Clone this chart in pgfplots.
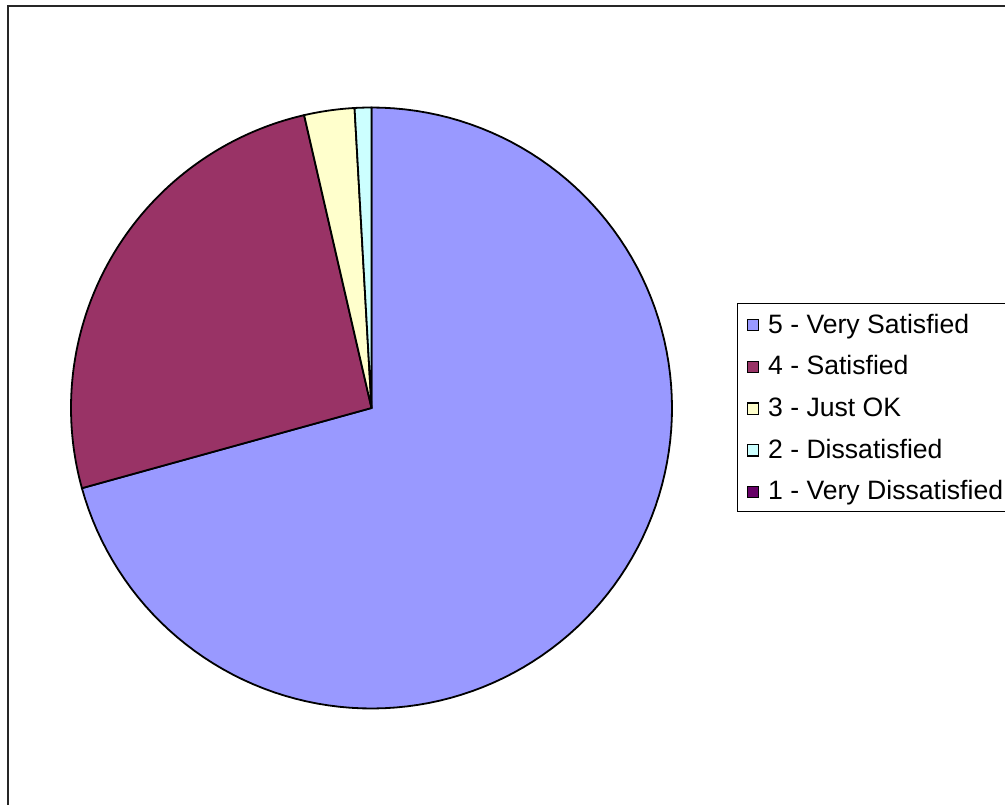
\documentclass[border=0pt]{standalone}
\usepackage{pgfplots}
\usepackage{pgfplotstable}
\pgfplotsset{compat=1.18}
\usepackage{fontspec}
\setmainfont{Liberation Sans}

\definecolor{c5}{HTML}{9999FF}
\definecolor{c4}{HTML}{993366}
\definecolor{c3}{HTML}{FFFFCC}
\definecolor{c2}{HTML}{CCFFFF}
\definecolor{c1}{HTML}{660066}

% share of answers, percent
\pgfplotstableread{
label value
5 70.7
4 25.7
3 2.7
2 0.9
1 0
}\piedata

\pgfplotstablegetelem{0}{value}\of\piedata \let\vA\pgfplotsretval
\pgfplotstablegetelem{1}{value}\of\piedata \let\vB\pgfplotsretval
\pgfplotstablegetelem{2}{value}\of\piedata \let\vC\pgfplotsretval
\pgfplotstablegetelem{3}{value}\of\piedata \let\vD\pgfplotsretval
\pgfplotstablegetelem{4}{value}\of\piedata \let\vE\pgfplotsretval
\pgfmathsetmacro\tot{\vA+\vB+\vC+\vD+\vE}
\pgfmathsetmacro\aA{90}
\pgfmathsetmacro\aB{\aA-360*(\vA/\tot)}
\pgfmathsetmacro\aC{\aB-360*(\vB/\tot)}
\pgfmathsetmacro\aD{\aC-360*(\vC/\tot)}
\pgfmathsetmacro\aE{\aD-360*(\vD/\tot)}

\def\cx{371.5}
\def\cy{396}
\def\R{300.5}

\begin{document}
\begin{tikzpicture}
\begin{axis}[
  x=0.5pt, y=0.5pt, xmin=0, xmax=1005, ymin=0, ymax=804,
  scale only axis, hide axis, clip=false,
  samples=120,
  legend image code/.code={\draw[#1,draw=black,line width=0.6pt] (-0.4pt,-3.4pt) rectangle (5.2pt,2.2pt);},
  legend style={at={(axis cs:737,501.3)}, anchor=north west,
    draw=black, line width=0.5pt, fill=white,
    font=\fontsize{13.3}{15}\selectfont,
    inner xsep=4.5pt, inner ysep=0pt, row sep=0pt, column sep=2.6pt,
    nodes={text height=14.9pt, text depth=5.95pt, inner ysep=0pt}},
  legend cell align=left,
]
\addplot[fill=c5, draw=black, line width=0.9pt, domain=\aB:\aA]
  ({\cx+\R*cos(x)}, {\cy+\R*sin(x)}) -- (axis cs:\cx,\cy) -- cycle;
\addlegendentry{5 - Very Satisfied}
\addplot[fill=c4, draw=black, line width=0.9pt, domain=\aC:\aB]
  ({\cx+\R*cos(x)}, {\cy+\R*sin(x)}) -- (axis cs:\cx,\cy) -- cycle;
\addlegendentry{4 - Satisfied}
\addplot[fill=c3, draw=black, line width=0.9pt, domain=\aD:\aC, samples=20]
  ({\cx+\R*cos(x)}, {\cy+\R*sin(x)}) -- (axis cs:\cx,\cy) -- cycle;
\addlegendentry{3 - Just OK}
\addplot[fill=c2, draw=black, line width=0.9pt, domain=\aE:\aD, samples=10]
  ({\cx+\R*cos(x)}, {\cy+\R*sin(x)}) -- (axis cs:\cx,\cy) -- cycle;
\addlegendentry{2 - Dissatisfied}
\addlegendimage{fill=c1}
\addlegendentry{1 - Very Dissatisfied}
\draw[black!85, line width=1pt] (axis cs:7.5,-20) rectangle (axis cs:1040,797.5);
\end{axis}
\pgfresetboundingbox
\path[use as bounding box] (0,0) rectangle (502.5pt,402pt);
\end{tikzpicture}
\end{document}
